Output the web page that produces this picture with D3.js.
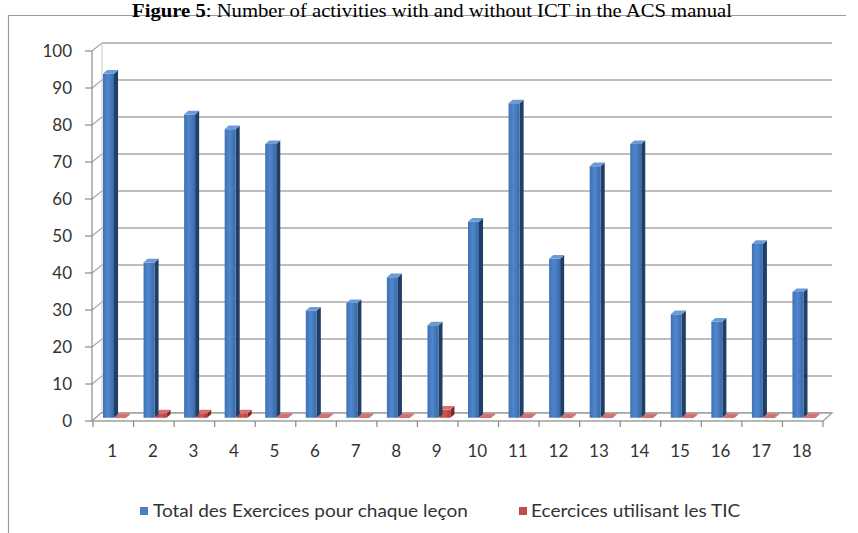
<!DOCTYPE html>
<html><head><meta charset="utf-8">
<script src="https://cdn.jsdelivr.net/npm/d3@7"></script>
<style>body{margin:0;background:#fff}svg{display:block}</style>
</head><body>
<script>
const categories = ["1","2","3","4","5","6","7","8","9","10","11","12","13","14","15","16","17","18"];
const totalExercises = [93,42,82,78,74,29,31,38,25,53,85,43,68,74,28,26,47,34];
const ictExercises = [0,1,1,1,0,0,0,0,2,0,0,0,0,0,0,0,0,0];
const yTicks = [0,10,20,30,40,50,60,70,80,90,100];
const seriesNames = ["Total des Exercices pour chaque leçon","Ecercices utilisant les TIC"];

const W=858,H=533;
const svg=d3.select("body").append("svg").attr("width",W).attr("height",H);

// chart border
svg.append("path").attr("d","M8.5,533 V15.5 H846").attr("fill","none").attr("stroke","#9a9a9a").attr("stroke-width",1.2);

// title
const title=svg.append("text").attr("transform","translate(432,17) scale(1.15,1)").attr("text-anchor","middle")
  .attr("font-family","Liberation Serif, Times New Roman, serif").attr("font-size",18).attr("fill","#000");
title.append("tspan").attr("font-weight","bold").text("Figure 5");
title.append("tspan").text(": Number of activities with and without ICT in the ACS manual");

const DX=9, DY=-8;
const x=d3.scaleBand().domain(categories).range([93,823]).paddingInner(0).paddingOuter(0);
const y=d3.scaleLinear().domain([0,100]).range([421,51]);
const P=(px,v,z)=>[px+z*DX, y(v)+z*DY];

const g=svg.append("g");
const gridCol="#a8a8a8";
yTicks.forEach(v=>{
  const [bx,by]=P(x.range()[0],v,1);
  const [ex,ey]=P(x.range()[1],v,1);
  g.append("line").attr("x1",bx).attr("y1",by).attr("x2",ex).attr("y2",ey).attr("stroke",gridCol).attr("stroke-width",1.5);
  g.append("line").attr("x1",92).attr("y1",y(v)).attr("x2",bx).attr("y2",by).attr("stroke",gridCol).attr("stroke-width",1.2);
  g.append("line").attr("x1",85).attr("y1",y(v)).attr("x2",92).attr("y2",y(v)).attr("stroke","#8a8a8a").attr("stroke-width",1.2);
  g.append("text").attr("x",72).attr("y",y(v)).attr("dy","0.35em").attr("text-anchor","end")
    .attr("font-family","Lato, Carlito, sans-serif").attr("font-size",17).attr("fill","#333").text(v);
});
g.append("line").attr("x1",P(x.range()[0],0,1)[0]).attr("y1",P(0,0,1)[1]).attr("x2",P(x.range()[0],100,1)[0]).attr("y2",P(0,100,1)[1]).attr("stroke","#c8c8c8").attr("stroke-width",1);
g.append("line").attr("x1",92).attr("y1",y(0)).attr("x2",92).attr("y2",y(100)).attr("stroke","#8a8a8a").attr("stroke-width",1.2);
const f0=P(x.range()[0]-1,0,0), f1=P(x.range()[1],0,0), f2=P(x.range()[1],0,1), f3=P(x.range()[0]-1,0,1);
g.append("path").attr("d",`M${f0}L${f1}L${f2}L${f3}Z`).attr("fill","#fff").attr("stroke","#a0a0a0").attr("stroke-width",1.3);
categories.concat(["end"]).forEach((c,i)=>{
  const px=i<categories.length? x(c): x.range()[1];
  g.append("line").attr("x1",px).attr("y1",y(0)).attr("x2",px).attr("y2",y(0)+6).attr("stroke","#8a8a8a").attr("stroke-width",1.2);
});
categories.forEach(c=>{
  g.append("text").attr("x",x(c)+x.bandwidth()/2-1).attr("y",451).attr("dy","0.35em").attr("text-anchor","middle")
   .attr("font-family","Lato, Carlito, sans-serif").attr("font-size",17).attr("fill","#333").text(c);
});

const z0=0.4, z1=0.85, bw=11;
function bar(px,v,cFront,cSide,cTop,minH){
  const a=P(px,0,z0), b=P(px+bw,0,z0), c=P(px+bw,v,z0), d=P(px,v,z0);
  const b2=P(px+bw,0,z1), c2=P(px+bw,v,z1), d2=P(px,v,z1);
  const hmin=minH||0;
  c[1]-=hmin; d[1]-=hmin; c2[1]-=hmin; d2[1]-=hmin;
  g.append("path").attr("d",`M${b}L${b2}L${c2}L${c}Z`).attr("fill",cSide);
  g.append("path").attr("d",`M${a}L${b}L${c}L${d}Z`).attr("fill",cFront);
  g.append("path").attr("d",`M${d}L${c}L${c2}L${d2}Z`).attr("fill",cTop);
}
const defs=svg.append("defs");
const gb=defs.append("linearGradient").attr("id","gb").attr("x1",0).attr("x2",1);
gb.append("stop").attr("offset","0").attr("stop-color","#3f72b5");
gb.append("stop").attr("offset","0.45").attr("stop-color","#4f86cc");
gb.append("stop").attr("offset","1").attr("stop-color","#3a6aa8");
const gr=defs.append("linearGradient").attr("id","gr").attr("x1",0).attr("x2",1);
gr.append("stop").attr("offset","0").attr("stop-color","#b8403c");
gr.append("stop").attr("offset","0.5").attr("stop-color","#cf5450");
gr.append("stop").attr("offset","1").attr("stop-color","#b03c38");

categories.forEach((c,i)=>{
  const base=x(c)+6.4;
  bar(base+12,ictExercises[i],"url(#gr)","#7e2927","#d9706c",0.8);
  bar(base,totalExercises[i],"url(#gb)","#203f66","#6d9bd6",0);
});

const lg=svg.append("g").attr("font-family","Lato, Carlito, sans-serif").attr("font-size",17).attr("fill","#333");
lg.append("rect").attr("x",140).attr("y",507).attr("width",8).attr("height",8).attr("fill","#4a7ebb");
lg.append("text").attr("transform","translate(153,511) scale(1.12,1)").attr("dy","0.35em").text(seriesNames[0]);
lg.append("rect").attr("x",519).attr("y",507).attr("width",8).attr("height",8).attr("fill","#c0504d");
lg.append("text").attr("transform","translate(531,511) scale(1.12,1)").attr("dy","0.35em").text(seriesNames[1]);
</script>
</body></html>
